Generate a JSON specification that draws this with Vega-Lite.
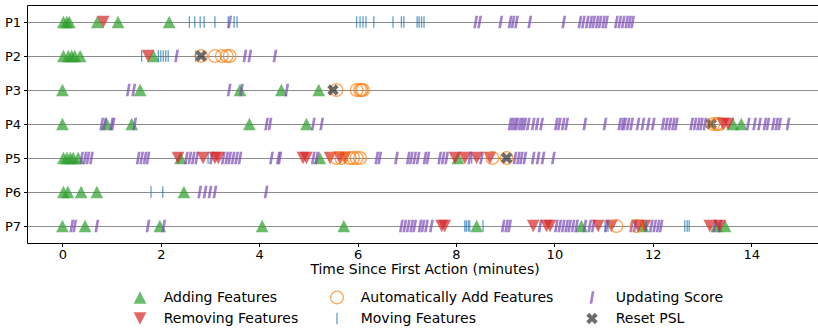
{
  "$schema": "https://vega.github.io/schema/vega-lite/v6.json",
  "autosize": "none",
  "padding": {"left": 27, "top": 5, "right": 0, "bottom": 90},
  "width": 795,
  "height": 238,
  "config": {
    "font": "DejaVu Sans",
    "view": {"stroke": "black", "strokeWidth": 1}
  },
  "data": {"values": [
    {"p":"P1","t":0.02,"e":"Adding Features"},{"p":"P1","t":0.09,"e":"Adding Features"},{"p":"P1","t":0.14,"e":"Adding Features"},{"p":"P1","t":0.71,"e":"Adding Features"},{"p":"P1","t":1.13,"e":"Adding Features"},{"p":"P1","t":2.17,"e":"Adding Features"},
    {"p":"P1","t":0.83,"e":"Removing Features"},
    {"p":"P1","t":2.58,"e":"Moving Features"},{"p":"P1","t":2.69,"e":"Moving Features"},{"p":"P1","t":2.8,"e":"Moving Features"},{"p":"P1","t":2.88,"e":"Moving Features"},{"p":"P1","t":3.1,"e":"Moving Features"},{"p":"P1","t":3.37,"e":"Moving Features"},{"p":"P1","t":3.49,"e":"Moving Features"},{"p":"P1","t":3.55,"e":"Moving Features"},{"p":"P1","t":5.98,"e":"Moving Features"},{"p":"P1","t":6.05,"e":"Moving Features"},{"p":"P1","t":6.11,"e":"Moving Features"},{"p":"P1","t":6.17,"e":"Moving Features"},{"p":"P1","t":6.33,"e":"Moving Features"},{"p":"P1","t":6.72,"e":"Moving Features"},{"p":"P1","t":6.89,"e":"Moving Features"},{"p":"P1","t":6.94,"e":"Moving Features"},{"p":"P1","t":7.21,"e":"Moving Features"},{"p":"P1","t":7.25,"e":"Moving Features"},{"p":"P1","t":7.3,"e":"Moving Features"},{"p":"P1","t":7.35,"e":"Moving Features"},
    {"p":"P1","t":3.4,"e":"Updating Score"},{"p":"P1","t":8.4,"e":"Updating Score"},{"p":"P1","t":8.48,"e":"Updating Score"},{"p":"P1","t":8.91,"e":"Updating Score"},{"p":"P1","t":9.1,"e":"Updating Score"},{"p":"P1","t":9.16,"e":"Updating Score"},{"p":"P1","t":9.23,"e":"Updating Score"},{"p":"P1","t":9.5,"e":"Updating Score"},{"p":"P1","t":10.19,"e":"Updating Score"},{"p":"P1","t":10.52,"e":"Updating Score"},{"p":"P1","t":10.59,"e":"Updating Score"},{"p":"P1","t":10.67,"e":"Updating Score"},{"p":"P1","t":10.74,"e":"Updating Score"},{"p":"P1","t":10.8,"e":"Updating Score"},{"p":"P1","t":10.87,"e":"Updating Score"},{"p":"P1","t":10.93,"e":"Updating Score"},{"p":"P1","t":11.0,"e":"Updating Score"},{"p":"P1","t":11.06,"e":"Updating Score"},{"p":"P1","t":11.26,"e":"Updating Score"},{"p":"P1","t":11.33,"e":"Updating Score"},{"p":"P1","t":11.4,"e":"Updating Score"},{"p":"P1","t":11.47,"e":"Updating Score"},{"p":"P1","t":11.53,"e":"Updating Score"},{"p":"P1","t":11.59,"e":"Updating Score"},

    {"p":"P2","t":0.02,"e":"Adding Features"},{"p":"P2","t":0.12,"e":"Adding Features"},{"p":"P2","t":0.19,"e":"Adding Features"},{"p":"P2","t":0.25,"e":"Adding Features"},{"p":"P2","t":0.36,"e":"Adding Features"},{"p":"P2","t":1.85,"e":"Adding Features"},
    {"p":"P2","t":1.74,"e":"Removing Features"},
    {"p":"P2","t":1.61,"e":"Moving Features"},{"p":"P2","t":1.95,"e":"Moving Features"},{"p":"P2","t":2.0,"e":"Moving Features"},{"p":"P2","t":2.05,"e":"Moving Features"},{"p":"P2","t":2.1,"e":"Moving Features"},{"p":"P2","t":2.15,"e":"Moving Features"},{"p":"P2","t":2.71,"e":"Moving Features"},
    {"p":"P2","t":2.82,"e":"Automatically Add Features"},{"p":"P2","t":3.1,"e":"Automatically Add Features"},{"p":"P2","t":3.24,"e":"Automatically Add Features"},{"p":"P2","t":3.34,"e":"Automatically Add Features"},{"p":"P2","t":3.4,"e":"Automatically Add Features"},
    {"p":"P2","t":2.82,"e":"Reset PSL"},
    {"p":"P2","t":2.32,"e":"Updating Score"},{"p":"P2","t":3.71,"e":"Updating Score"},{"p":"P2","t":3.81,"e":"Updating Score"},{"p":"P2","t":4.32,"e":"Updating Score"},

    {"p":"P3","t":0.0,"e":"Adding Features"},{"p":"P3","t":1.58,"e":"Adding Features"},{"p":"P3","t":3.61,"e":"Adding Features"},{"p":"P3","t":4.45,"e":"Adding Features"},{"p":"P3","t":5.21,"e":"Adding Features"},
    {"p":"P3","t":1.34,"e":"Updating Score"},{"p":"P3","t":1.45,"e":"Updating Score"},{"p":"P3","t":3.39,"e":"Updating Score"},{"p":"P3","t":3.64,"e":"Updating Score"},{"p":"P3","t":4.56,"e":"Updating Score"},
    {"p":"P3","t":5.57,"e":"Automatically Add Features"},{"p":"P3","t":5.98,"e":"Automatically Add Features"},{"p":"P3","t":6.05,"e":"Automatically Add Features"},{"p":"P3","t":6.08,"e":"Automatically Add Features"},{"p":"P3","t":6.11,"e":"Automatically Add Features"},
    {"p":"P3","t":5.5,"e":"Reset PSL"},

    {"p":"P4","t":0.0,"e":"Adding Features"},{"p":"P4","t":0.9,"e":"Adding Features"},{"p":"P4","t":1.41,"e":"Adding Features"},{"p":"P4","t":3.8,"e":"Adding Features"},{"p":"P4","t":4.96,"e":"Adding Features"},{"p":"P4","t":13.63,"e":"Adding Features"},{"p":"P4","t":13.8,"e":"Adding Features"},
    {"p":"P4","t":0.8,"e":"Updating Score"},{"p":"P4","t":0.86,"e":"Updating Score"},{"p":"P4","t":1.0,"e":"Updating Score"},{"p":"P4","t":1.03,"e":"Updating Score"},{"p":"P4","t":1.47,"e":"Updating Score"},{"p":"P4","t":4.15,"e":"Updating Score"},{"p":"P4","t":4.22,"e":"Updating Score"},{"p":"P4","t":5.1,"e":"Updating Score"},{"p":"P4","t":5.27,"e":"Updating Score"},{"p":"P4","t":9.1,"e":"Updating Score"},{"p":"P4","t":9.15,"e":"Updating Score"},{"p":"P4","t":9.2,"e":"Updating Score"},{"p":"P4","t":9.24,"e":"Updating Score"},{"p":"P4","t":9.3,"e":"Updating Score"},{"p":"P4","t":9.35,"e":"Updating Score"},{"p":"P4","t":9.4,"e":"Updating Score"},{"p":"P4","t":9.47,"e":"Updating Score"},{"p":"P4","t":9.57,"e":"Updating Score"},{"p":"P4","t":9.65,"e":"Updating Score"},{"p":"P4","t":9.74,"e":"Updating Score"},{"p":"P4","t":10.04,"e":"Updating Score"},{"p":"P4","t":10.1,"e":"Updating Score"},{"p":"P4","t":10.18,"e":"Updating Score"},{"p":"P4","t":10.25,"e":"Updating Score"},{"p":"P4","t":10.62,"e":"Updating Score"},{"p":"P4","t":11.03,"e":"Updating Score"},{"p":"P4","t":11.33,"e":"Updating Score"},{"p":"P4","t":11.39,"e":"Updating Score"},{"p":"P4","t":11.43,"e":"Updating Score"},{"p":"P4","t":11.5,"e":"Updating Score"},{"p":"P4","t":11.57,"e":"Updating Score"},{"p":"P4","t":11.7,"e":"Updating Score"},{"p":"P4","t":11.8,"e":"Updating Score"},{"p":"P4","t":11.91,"e":"Updating Score"},{"p":"P4","t":12.01,"e":"Updating Score"},{"p":"P4","t":12.21,"e":"Updating Score"},{"p":"P4","t":12.28,"e":"Updating Score"},{"p":"P4","t":12.35,"e":"Updating Score"},{"p":"P4","t":12.42,"e":"Updating Score"},{"p":"P4","t":12.48,"e":"Updating Score"},{"p":"P4","t":12.79,"e":"Updating Score"},{"p":"P4","t":12.86,"e":"Updating Score"},{"p":"P4","t":12.93,"e":"Updating Score"},{"p":"P4","t":12.99,"e":"Updating Score"},{"p":"P4","t":13.06,"e":"Updating Score"},{"p":"P4","t":13.94,"e":"Updating Score"},{"p":"P4","t":14.07,"e":"Updating Score"},{"p":"P4","t":14.17,"e":"Updating Score"},{"p":"P4","t":14.28,"e":"Updating Score"},{"p":"P4","t":14.34,"e":"Updating Score"},{"p":"P4","t":14.45,"e":"Updating Score"},{"p":"P4","t":14.52,"e":"Updating Score"},{"p":"P4","t":14.58,"e":"Updating Score"},{"p":"P4","t":14.75,"e":"Updating Score"},
    {"p":"P4","t":13.19,"e":"Reset PSL"},
    {"p":"P4","t":13.23,"e":"Automatically Add Features"},{"p":"P4","t":13.3,"e":"Automatically Add Features"},{"p":"P4","t":13.36,"e":"Automatically Add Features"},
    {"p":"P4","t":13.43,"e":"Removing Features"},{"p":"P4","t":13.53,"e":"Removing Features"},

    {"p":"P5","t":0.02,"e":"Adding Features"},{"p":"P5","t":0.09,"e":"Adding Features"},{"p":"P5","t":0.16,"e":"Adding Features"},{"p":"P5","t":0.22,"e":"Adding Features"},{"p":"P5","t":0.32,"e":"Adding Features"},{"p":"P5","t":2.4,"e":"Adding Features"},{"p":"P5","t":5.23,"e":"Adding Features"},{"p":"P5","t":8.04,"e":"Adding Features"},
    {"p":"P5","t":0.39,"e":"Updating Score"},{"p":"P5","t":0.46,"e":"Updating Score"},{"p":"P5","t":0.52,"e":"Updating Score"},{"p":"P5","t":0.59,"e":"Updating Score"},{"p":"P5","t":1.54,"e":"Updating Score"},{"p":"P5","t":1.61,"e":"Updating Score"},{"p":"P5","t":1.68,"e":"Updating Score"},{"p":"P5","t":1.74,"e":"Updating Score"},{"p":"P5","t":2.52,"e":"Updating Score"},{"p":"P5","t":2.59,"e":"Updating Score"},{"p":"P5","t":2.66,"e":"Updating Score"},{"p":"P5","t":2.73,"e":"Updating Score"},{"p":"P5","t":3.03,"e":"Updating Score"},{"p":"P5","t":3.27,"e":"Updating Score"},{"p":"P5","t":3.34,"e":"Updating Score"},{"p":"P5","t":3.4,"e":"Updating Score"},{"p":"P5","t":3.47,"e":"Updating Score"},{"p":"P5","t":3.54,"e":"Updating Score"},{"p":"P5","t":3.61,"e":"Updating Score"},{"p":"P5","t":4.25,"e":"Updating Score"},{"p":"P5","t":4.39,"e":"Updating Score"},{"p":"P5","t":4.42,"e":"Updating Score"},{"p":"P5","t":5.1,"e":"Updating Score"},{"p":"P5","t":5.17,"e":"Updating Score"},{"p":"P5","t":6.39,"e":"Updating Score"},{"p":"P5","t":6.45,"e":"Updating Score"},{"p":"P5","t":6.79,"e":"Updating Score"},{"p":"P5","t":7.03,"e":"Updating Score"},{"p":"P5","t":7.09,"e":"Updating Score"},{"p":"P5","t":7.16,"e":"Updating Score"},{"p":"P5","t":7.23,"e":"Updating Score"},{"p":"P5","t":7.37,"e":"Updating Score"},{"p":"P5","t":7.43,"e":"Updating Score"},{"p":"P5","t":7.67,"e":"Updating Score"},{"p":"P5","t":7.74,"e":"Updating Score"},{"p":"P5","t":7.81,"e":"Updating Score"},{"p":"P5","t":8.28,"e":"Updating Score"},{"p":"P5","t":8.52,"e":"Updating Score"},{"p":"P5","t":9.2,"e":"Updating Score"},{"p":"P5","t":9.27,"e":"Updating Score"},{"p":"P5","t":9.33,"e":"Updating Score"},{"p":"P5","t":9.4,"e":"Updating Score"},{"p":"P5","t":9.57,"e":"Updating Score"},{"p":"P5","t":9.67,"e":"Updating Score"},{"p":"P5","t":9.77,"e":"Updating Score"},{"p":"P5","t":9.98,"e":"Updating Score"},
    {"p":"P5","t":2.35,"e":"Removing Features"},{"p":"P5","t":2.86,"e":"Removing Features"},{"p":"P5","t":3.1,"e":"Removing Features"},{"p":"P5","t":3.17,"e":"Removing Features"},{"p":"P5","t":4.89,"e":"Removing Features"},{"p":"P5","t":4.96,"e":"Removing Features"},{"p":"P5","t":5.44,"e":"Removing Features"},{"p":"P5","t":5.64,"e":"Removing Features"},{"p":"P5","t":5.74,"e":"Removing Features"},{"p":"P5","t":7.98,"e":"Removing Features"},{"p":"P5","t":8.18,"e":"Removing Features"},{"p":"P5","t":8.42,"e":"Removing Features"},{"p":"P5","t":8.69,"e":"Removing Features"},
    {"p":"P5","t":2.96,"e":"Moving Features"},{"p":"P5","t":8.32,"e":"Moving Features"},
    {"p":"P5","t":5.57,"e":"Automatically Add Features"},{"p":"P5","t":5.67,"e":"Automatically Add Features"},{"p":"P5","t":5.84,"e":"Automatically Add Features"},{"p":"P5","t":5.91,"e":"Automatically Add Features"},{"p":"P5","t":5.98,"e":"Automatically Add Features"},{"p":"P5","t":6.05,"e":"Automatically Add Features"},{"p":"P5","t":8.74,"e":"Automatically Add Features"},{"p":"P5","t":9.03,"e":"Automatically Add Features"},
    {"p":"P5","t":9.03,"e":"Reset PSL"},

    {"p":"P6","t":0.02,"e":"Adding Features"},{"p":"P6","t":0.11,"e":"Adding Features"},{"p":"P6","t":0.38,"e":"Adding Features"},{"p":"P6","t":0.7,"e":"Adding Features"},{"p":"P6","t":2.47,"e":"Adding Features"},
    {"p":"P6","t":1.8,"e":"Moving Features"},{"p":"P6","t":2.04,"e":"Moving Features"},
    {"p":"P6","t":2.79,"e":"Updating Score"},{"p":"P6","t":2.9,"e":"Updating Score"},{"p":"P6","t":3.0,"e":"Updating Score"},{"p":"P6","t":3.1,"e":"Updating Score"},{"p":"P6","t":4.14,"e":"Updating Score"},

    {"p":"P7","t":0.0,"e":"Adding Features"},{"p":"P7","t":0.46,"e":"Adding Features"},{"p":"P7","t":1.98,"e":"Adding Features"},{"p":"P7","t":4.06,"e":"Adding Features"},{"p":"P7","t":5.72,"e":"Adding Features"},{"p":"P7","t":8.42,"e":"Adding Features"},{"p":"P7","t":10.55,"e":"Adding Features"},{"p":"P7","t":11.8,"e":"Adding Features"},{"p":"P7","t":13.3,"e":"Adding Features"},{"p":"P7","t":13.47,"e":"Adding Features"},
    {"p":"P7","t":0.19,"e":"Updating Score"},{"p":"P7","t":0.25,"e":"Updating Score"},{"p":"P7","t":0.7,"e":"Updating Score"},{"p":"P7","t":1.74,"e":"Updating Score"},{"p":"P7","t":2.06,"e":"Updating Score"},{"p":"P7","t":6.89,"e":"Updating Score"},{"p":"P7","t":6.96,"e":"Updating Score"},{"p":"P7","t":7.03,"e":"Updating Score"},{"p":"P7","t":7.1,"e":"Updating Score"},{"p":"P7","t":7.16,"e":"Updating Score"},{"p":"P7","t":7.27,"e":"Updating Score"},{"p":"P7","t":7.33,"e":"Updating Score"},{"p":"P7","t":7.4,"e":"Updating Score"},{"p":"P7","t":7.5,"e":"Updating Score"},{"p":"P7","t":8.96,"e":"Updating Score"},{"p":"P7","t":9.03,"e":"Updating Score"},{"p":"P7","t":9.09,"e":"Updating Score"},{"p":"P7","t":9.71,"e":"Updating Score"},{"p":"P7","t":10.04,"e":"Updating Score"},{"p":"P7","t":10.11,"e":"Updating Score"},{"p":"P7","t":10.18,"e":"Updating Score"},{"p":"P7","t":10.25,"e":"Updating Score"},{"p":"P7","t":10.31,"e":"Updating Score"},{"p":"P7","t":10.38,"e":"Updating Score"},{"p":"P7","t":10.45,"e":"Updating Score"},{"p":"P7","t":10.62,"e":"Updating Score"},{"p":"P7","t":10.72,"e":"Updating Score"},{"p":"P7","t":10.79,"e":"Updating Score"},{"p":"P7","t":11.06,"e":"Updating Score"},{"p":"P7","t":11.57,"e":"Updating Score"},{"p":"P7","t":11.64,"e":"Updating Score"},{"p":"P7","t":11.97,"e":"Updating Score"},{"p":"P7","t":12.04,"e":"Updating Score"},{"p":"P7","t":12.11,"e":"Updating Score"},{"p":"P7","t":12.17,"e":"Updating Score"},{"p":"P7","t":13.26,"e":"Updating Score"},{"p":"P7","t":13.36,"e":"Updating Score"},
    {"p":"P7","t":7.71,"e":"Removing Features"},{"p":"P7","t":7.77,"e":"Removing Features"},{"p":"P7","t":9.57,"e":"Removing Features"},{"p":"P7","t":9.84,"e":"Removing Features"},{"p":"P7","t":9.91,"e":"Removing Features"},{"p":"P7","t":10.89,"e":"Removing Features"},{"p":"P7","t":11.16,"e":"Removing Features"},{"p":"P7","t":11.7,"e":"Removing Features"},{"p":"P7","t":11.84,"e":"Removing Features"},{"p":"P7","t":13.16,"e":"Removing Features"},{"p":"P7","t":13.36,"e":"Removing Features"},
    {"p":"P7","t":8.18,"e":"Moving Features"},{"p":"P7","t":8.21,"e":"Moving Features"},{"p":"P7","t":8.25,"e":"Moving Features"},{"p":"P7","t":8.28,"e":"Moving Features"},{"p":"P7","t":8.55,"e":"Moving Features"},{"p":"P7","t":11.03,"e":"Moving Features"},{"p":"P7","t":11.09,"e":"Moving Features"},{"p":"P7","t":11.87,"e":"Moving Features"},{"p":"P7","t":12.65,"e":"Moving Features"},{"p":"P7","t":12.7,"e":"Moving Features"},{"p":"P7","t":12.74,"e":"Moving Features"},
    {"p":"P7","t":11.26,"e":"Automatically Add Features"},{"p":"P7","t":11.67,"e":"Automatically Add Features"}
  ]},
  "mark": {"type": "point", "opacity": 0.7, "strokeWidth": 1.3, "size": 160},
  "encoding": {
    "x": {
      "field": "t", "type": "quantitative",
      "scale": {"domain": [-0.72, 15.44], "nice": false, "zero": false},
      "axis": {
        "title": "Time Since First Action (minutes)", "values": [0, 2, 4, 6, 8, 10, 12, 14],
        "grid": false, "domain": false, "tickColor": "black", "tickSize": 3.5,
        "labelFontSize": 13, "labelColor": "black", "labelPadding": 2,
        "titleFontSize": 13.9, "titleFontWeight": "normal", "titleColor": "black", "titlePadding": 1
      }
    },
    "y": {
      "field": "p", "type": "nominal",
      "scale": {"type": "point", "padding": 0.5},
      "axis": {
        "title": null, "grid": true, "gridColor": "#8c8c8c", "gridWidth": 1.2,
        "domain": false, "tickColor": "black", "tickSize": 3.5,
        "labelFontSize": 13, "labelColor": "black", "labelPadding": 3
      }
    },
    "shape": {
      "field": "e", "type": "nominal",
      "scale": {
        "domain": ["Adding Features", "Removing Features", "Automatically Add Features", "Moving Features", "Updating Score", "Reset PSL"],
        "range": ["M0,-1L1,1L-1,1Z", "M0,1L1,-1L-1,-1Z", "M1,0A1,1,0,1,1,-1,0A1,1,0,1,1,1,0Z", "M0,-0.9L0,0.9", "M-0.38,1L0.04,1L0.38,-1L-0.04,-1Z", "M-0.9,-0.45L-0.45,-0.9L0,-0.45L0.45,-0.9L0.9,-0.45L0.45,0L0.9,0.45L0.45,0.9L0,0.45L-0.45,0.9L-0.9,0.45L-0.45,0Z"]
      },
      "legend": {
        "title": null, "orient": "none", "legendX": 106, "legendY": 285.5,
        "columns": 3, "columnPadding": 29, "rowPadding": 3,
        "symbolSize": 160, "symbolStrokeWidth": 1.3, "symbolOpacity": 0.7,
        "labelFontSize": 14, "labelColor": "black", "labelOffset": 16.7, "labelLimit": 400, "gridAlign": "each"
      }
    },
    "fill": {
      "field": "e", "type": "nominal",
      "scale": {
        "domain": ["Adding Features", "Removing Features", "Automatically Add Features", "Moving Features", "Updating Score", "Reset PSL"],
        "range": ["#2ca02c", "#d62728", "transparent", "transparent", "#7d4cb8", "#2e2e2e"]
      }
    },
    "stroke": {
      "field": "e", "type": "nominal",
      "scale": {
        "domain": ["Adding Features", "Removing Features", "Automatically Add Features", "Moving Features", "Updating Score", "Reset PSL"],
        "range": ["transparent", "transparent", "#ff7f0e", "#1f77b4", "transparent", "transparent"]
      }
    }
  }
}
